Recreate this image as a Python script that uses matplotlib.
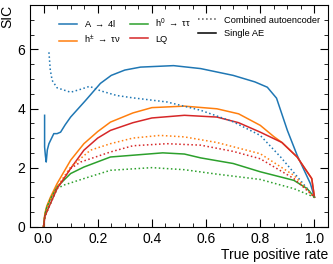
import matplotlib
matplotlib.use('Agg')
import matplotlib.pyplot as plt
import matplotlib.ticker as mtick
from matplotlib.lines import Line2D

plt.rcParams['font.family'] = ['Liberation Sans', 'DejaVu Sans']
plt.rcParams['mathtext.fontset'] = 'custom'
plt.rcParams['mathtext.rm'] = 'Liberation Sans'
plt.rcParams['mathtext.it'] = 'Liberation Sans'

# single AE curves (tpr, sic)
a4l_x = [0.004, 0.004, 0.007, 0.01, 0.014, 0.02, 0.03, 0.038, 0.05, 0.063, 0.08, 0.1, 0.155,
         0.21, 0.25, 0.3, 0.358, 0.48, 0.58, 0.70, 0.78, 0.826, 0.86, 0.9, 0.936, 0.985, 1.0]
a4l_y = [3.77, 2.7, 2.4, 2.19, 2.6, 2.81, 3.0, 3.15, 3.15, 3.2, 3.45, 3.71, 4.27,
         4.85, 5.12, 5.3, 5.40, 5.45, 5.35, 5.12, 4.9, 4.72, 4.35, 3.26, 2.42, 1.46, 1.0]
hpm_x = [0.0, 0.005, 0.012, 0.026, 0.05, 0.1, 0.149, 0.2, 0.247, 0.33, 0.4, 0.52, 0.64, 0.72,
         0.8, 0.85, 0.88, 0.936, 0.99, 1.0]
hpm_y = [0.0, 0.45, 0.7, 1.01, 1.46, 2.25, 2.81, 3.22, 3.54, 3.85, 4.03, 4.08, 3.99, 3.82,
         3.43, 3.05, 2.85, 2.36, 1.63, 1.0]
h0_x = [0.0, 0.005, 0.012, 0.026, 0.05, 0.1, 0.149, 0.247, 0.33, 0.44, 0.52, 0.58, 0.70, 0.8,
        0.924, 0.973, 1.0]
h0_y = [0.0, 0.4, 0.65, 0.95, 1.35, 1.8, 2.02, 2.36, 2.42, 2.5, 2.46, 2.33, 2.14, 1.86,
        1.57, 1.29, 1.0]
lq_x = [0.0, 0.005, 0.02, 0.05, 0.1, 0.149, 0.2, 0.247, 0.33, 0.4, 0.52, 0.64, 0.72, 0.8,
        0.88, 0.936, 0.99, 1.0]
lq_y = [0.0, 0.35, 0.67, 1.29, 1.97, 2.59, 3.0, 3.26, 3.52, 3.68, 3.77, 3.71, 3.52, 3.2,
        2.85, 2.36, 1.63, 1.0]

# combined autoencoder curves
a4l_c_x = [0.02, 0.025, 0.032, 0.05, 0.1, 0.137, 0.17, 0.21, 0.27, 0.33, 0.456, 0.58, 0.70,
           0.8, 0.875, 0.948, 1.0]
a4l_c_y = [5.9, 5.3, 4.95, 4.70, 4.55, 4.65, 4.75, 4.6, 4.44, 4.36, 4.22, 3.94, 3.55,
           3.09, 2.36, 1.57, 1.0]
hpm_c_x = [0.0, 0.005, 0.02, 0.05, 0.1, 0.173, 0.247, 0.33, 0.43, 0.52, 0.64, 0.8, 0.924, 1.0]
hpm_c_y = [0.0, 0.4, 0.85, 1.35, 2.02, 2.59, 2.81, 3.0, 3.09, 3.04, 2.85, 2.47, 1.74, 1.0]
lq_c_x = [0.0, 0.005, 0.02, 0.05, 0.1, 0.137, 0.247, 0.33, 0.456, 0.58, 0.70, 0.8, 0.924, 1.0]
lq_c_y = [0.0, 0.35, 0.67, 1.29, 1.97, 2.19, 2.53, 2.74, 2.81, 2.76, 2.55, 2.3, 1.63, 1.0]
h0_c_x = [0.0, 0.005, 0.02, 0.05, 0.075, 0.149, 0.247, 0.4, 0.52, 0.64, 0.8, 0.924, 1.0]
h0_c_y = [0.0, 0.35, 0.67, 1.29, 1.41, 1.63, 1.91, 2.0, 1.93, 1.78, 1.6, 1.29, 1.0]

blue, orange, green, red = '#1f77b4', '#ff7f0e', '#2ca02c', '#d62728'

fig = plt.figure(figsize=(3.33, 2.64), dpi=100)
ax = fig.add_axes([0.09, 0.141, 0.895, 0.84])

lw = 1.1
ax.plot(a4l_x, a4l_y, color=blue, lw=lw, label=r'A $\rightarrow$ 4l')
ax.plot(hpm_x, hpm_y, color=orange, lw=lw, label=r'h$^{\pm}$ $\rightarrow$ $\tau\nu$')
ax.plot(h0_x, h0_y, color=green, lw=lw, label=r'h$^{0}$ $\rightarrow$ $\tau\tau$')
ax.plot(lq_x, lq_y, color=red, lw=lw, label='LQ')
ax.plot(a4l_c_x, a4l_c_y, color=blue, lw=lw, ls=':')
ax.plot(hpm_c_x, hpm_c_y, color=orange, lw=lw, ls=':')
ax.plot(h0_c_x, h0_c_y, color=green, lw=lw, ls=':')
ax.plot(lq_c_x, lq_c_y, color=red, lw=lw, ls=':')

ax.set_xlim(-0.05, 1.05)
ax.set_ylim(0, 7.5)
ax.xaxis.set_major_locator(mtick.MultipleLocator(0.2))
ax.xaxis.set_minor_locator(mtick.MultipleLocator(0.05))
ax.yaxis.set_major_locator(mtick.MultipleLocator(2))
ax.yaxis.set_minor_locator(mtick.MultipleLocator(0.5))
ax.xaxis.set_major_formatter(mtick.FormatStrFormatter('%.1f'))
ax.tick_params(which='both', direction='in', top=True, right=True, labelsize=10)
ax.tick_params(which='major', length=6)
ax.tick_params(which='minor', length=3)

ax.set_xlabel('True positive rate', fontsize=10, loc='right', labelpad=2)
ax.set_ylabel('SIC', fontsize=10, loc='top', labelpad=2)

leg1 = ax.legend(loc='upper left', bbox_to_anchor=(0.07, 0.985), ncol=2, fontsize=6.7,
                 frameon=False, handlelength=1.9, columnspacing=1.0, labelspacing=0.5)
ax.add_artist(leg1)
style_handles = [Line2D([], [], color='#555555', ls=':', lw=lw),
                 Line2D([], [], color='black', ls='-', lw=lw)]
ax.legend(style_handles, ['Combined autoencoder', 'Single AE'], loc='upper right',
          bbox_to_anchor=(1.0, 0.99), fontsize=6.7, frameon=False, handlelength=1.9,
          labelspacing=0.45)

fig.savefig('out.png', dpi=100)
